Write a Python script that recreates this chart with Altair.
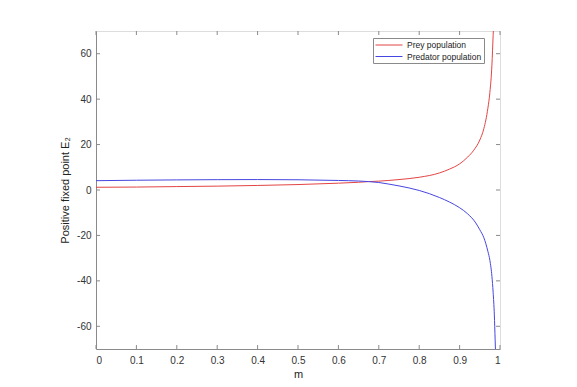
import altair as alt
import pandas as pd

# Values
prey_m = [0, 0.1, 0.2, 0.3, 0.4, 0.5, 0.6, 0.65, 0.675, 0.7, 0.75, 0.8, 0.85, 0.875, 0.9, 0.92, 0.935, 0.95, 0.96, 0.97, 0.975, 0.98, 0.983, 0.986]
prey_v = [1.2, 1.3, 1.5, 1.7, 2.0, 2.4, 3.0, 3.4, 3.7, 3.9, 4.6, 5.6, 7.5, 9.2, 11.5, 14.5, 17.5, 22, 27, 36, 43, 55, 68, 80]

pred_m = [0, 0.1, 0.2, 0.3, 0.4, 0.5, 0.6, 0.65, 0.675, 0.7, 0.725, 0.75, 0.775, 0.8, 0.825, 0.85, 0.875, 0.9, 0.92, 0.94, 0.95, 0.96, 0.97, 0.975, 0.98, 0.983, 0.986, 0.988, 0.99]
pred_v = [4.1, 4.3, 4.45, 4.55, 4.6, 4.5, 4.2, 3.95, 3.7, 3.3, 2.6, 1.8, 0.9, -0.2, -1.6, -3.3, -5.3, -7.8, -10.5, -14.5, -17.5, -21, -27, -31, -38, -45, -55, -66, -78]

series = ["Prey population", "Predator population"]
colors = ["#e34444", "#4646e0"]

x_ticks = [0, 0.1, 0.2, 0.3, 0.4, 0.5, 0.6, 0.7, 0.8, 0.9, 1]
y_ticks = [-60, -40, -20, 0, 20, 40, 60]

W, H = 404, 318
GRAY = "#8a8a8a"
FONT = "Liberation Sans"

df = pd.concat([
    pd.DataFrame({"m": prey_m, "v": prey_v, "s": series[0]}),
    pd.DataFrame({"m": pred_m, "v": pred_v, "s": series[1]}),
])

xs = alt.Scale(domain=[0, 1], nice=False, zero=False)
ys = alt.Scale(domain=[-70, 70], nice=False, zero=False)

lines = alt.Chart(df).mark_line(clip=True, strokeWidth=1, interpolate="monotone").encode(
    x=alt.X("m:Q", scale=xs, axis=alt.Axis(
        title="m", values=x_ticks, format="~g", ticks=False, grid=False,
        domainColor=GRAY, labelPadding=6, titlePadding=3,
        labelColor="#333333", titleColor="#222222",
        titleFontWeight="normal", titleFont=FONT, titleFontSize=11)),
    y=alt.Y("v:Q", scale=ys, axis=alt.Axis(
        title="Positive fixed point E₂", values=y_ticks, labelExpr="'' + datum.value",
        ticks=False, grid=False, domainColor=GRAY, labelPadding=5, titlePadding=6,
        labelColor="#333333", titleColor="#222222",
        titleFontWeight="normal", titleFont=FONT, titleFontSize=11)),
    color=alt.Color("s:N", scale=alt.Scale(domain=series, range=colors), legend=alt.Legend(
        title=None, orient="none", legendX=277, legendY=7,
        symbolType="M-3,0L3,0", symbolSize=81, symbolStrokeWidth=1, symbolOffset=9,
        labelFontSize=8.5, labelFont=FONT,
        strokeColor=GRAY, fillColor="white", padding=2, rowPadding=1.5,
        labelOffset=13, labelColor="#222222")),
    order=alt.Order("s:N"),
)

xt = pd.DataFrame({"t": x_ticks})
yt = pd.DataFrame({"t": y_ticks})

tb = alt.Chart(xt).mark_rule(color=GRAY, strokeWidth=1).encode(
    x=alt.X("t:Q", scale=xs), y=alt.value(H), y2=alt.value(H - 4))
tt = alt.Chart(xt).mark_rule(color=GRAY, strokeWidth=1).encode(
    x=alt.X("t:Q", scale=xs), y=alt.value(0), y2=alt.value(4))
tl = alt.Chart(yt).mark_rule(color=GRAY, strokeWidth=1).encode(
    y=alt.Y("t:Q", scale=ys), x=alt.value(0), x2=alt.value(4))
tr = alt.Chart(yt).mark_rule(color=GRAY, strokeWidth=1).encode(
    y=alt.Y("t:Q", scale=ys), x=alt.value(W), x2=alt.value(W - 4))

chart = alt.layer(lines, tb, tt, tl, tr).properties(
    width=W, height=H,
    autosize=alt.AutoSizeParams(type="none"),
    padding={"left": 88, "top": 23, "right": 60, "bottom": 38},
).configure_view(stroke=GRAY, strokeWidth=1).configure_axis(
    labelFont=FONT, titleFont=FONT, labelFontSize=10, titleFontSize=11,
    titleFontWeight="normal",
).configure(background="white")

chart.save("out.html", embed_options={"renderer": "svg", "actions": False})
